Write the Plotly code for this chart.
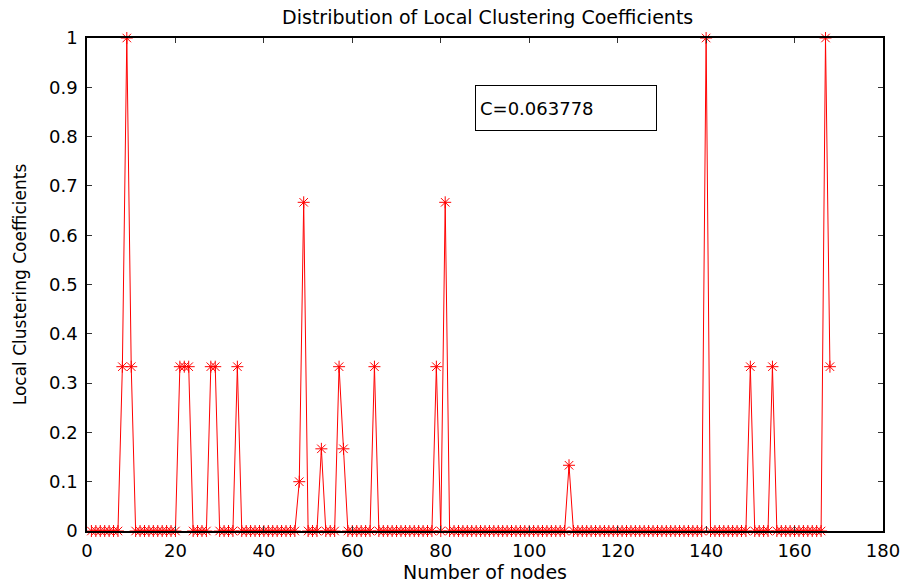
import plotly.graph_objects as go

# Node index (x) and local clustering coefficient (y) for each node
nodes = list(range(1, 169))
coefficients = [
    0, 0, 0, 0, 0, 0, 0, 0.3333, 1, 0.3333,              # 1-10
    0, 0, 0, 0, 0, 0, 0, 0, 0, 0,                         # 11-20
    0.3333, 0.3333, 0.3333, 0, 0, 0, 0, 0.3333, 0.3333, 0,  # 21-30
    0, 0, 0, 0.3333, 0, 0, 0, 0, 0, 0,                    # 31-40
    0, 0, 0, 0, 0, 0, 0, 0.1, 0.6667, 0,                  # 41-50
    0, 0, 0.1667, 0, 0, 0, 0.3333, 0.1667, 0, 0,          # 51-60
    0, 0, 0, 0, 0.3333, 0, 0, 0, 0, 0,                    # 61-70
    0, 0, 0, 0, 0, 0, 0, 0, 0.3333, 0,                    # 71-80
    0.6667, 0, 0, 0, 0, 0, 0, 0, 0, 0,                    # 81-90
    0, 0, 0, 0, 0, 0, 0, 0, 0, 0,                         # 91-100
    0, 0, 0, 0, 0, 0, 0, 0, 0.1333, 0,                    # 101-110
    0, 0, 0, 0, 0, 0, 0, 0, 0, 0,                         # 111-120
    0, 0, 0, 0, 0, 0, 0, 0, 0, 0,                         # 121-130
    0, 0, 0, 0, 0, 0, 0, 0, 0, 1,                         # 131-140
    0, 0, 0, 0, 0, 0, 0, 0, 0, 0.3333,                    # 141-150
    0, 0, 0, 0, 0.3333, 0, 0, 0, 0, 0,                    # 151-160
    0, 0, 0, 0, 0, 0, 1, 0.3333,                          # 161-168
]
x_ticks = [0, 20, 40, 60, 80, 100, 120, 140, 160, 180]
y_ticks = [0, 0.1, 0.2, 0.3, 0.4, 0.5, 0.6, 0.7, 0.8, 0.9, 1]
y_tick_labels = ["0", "0.1", "0.2", "0.3", "0.4", "0.5", "0.6", "0.7", "0.8", "0.9", "1"]
annotation_text = "C=0.063778"

FONT = "DejaVu Sans"

fig = go.Figure()
fig.add_trace(go.Scatter(
    x=nodes, y=coefficients,
    mode="lines+markers",
    line=dict(color="#ff0000", width=1),
    marker=dict(symbol="asterisk-open", size=10,
                line=dict(color="#ff0000", width=1), color="#ff0000"),
    cliponaxis=False,
    showlegend=False,
))

axis_common = dict(
    showline=True, linecolor="black", linewidth=1.5, mirror="ticks",
    ticks="inside", ticklen=5, tickwidth=1, tickcolor="#333333",
    showgrid=False, zeroline=False, automargin=False,
    tickfont=dict(family=FONT, size=18, color="black"),
)

fig.update_layout(
    width=909, height=585,
    margin=dict(l=87, r=26, t=38, b=54),
    paper_bgcolor="white", plot_bgcolor="white",
    title=dict(text="Distribution of Local Clustering Coefficients",
               font=dict(family=FONT, size=19, color="black"),
               x=0.5365, xanchor="center", y=0.970, yanchor="middle"),
    xaxis=dict(range=[0, 180], tickvals=x_ticks,
               title=dict(text="Number of nodes", standoff=3,
                          font=dict(family=FONT, size=19, color="black")),
               ticklabelstandoff=3,
               **axis_common),
    yaxis=dict(range=[0, 1], tickvals=y_ticks, ticktext=y_tick_labels,
               title=dict(text="Local Clustering Coefficients", standoff=18,
                          font=dict(family=FONT, size=17, color="black")),
               ticklabelstandoff=4,
               **axis_common),
    annotations=[dict(
        text=annotation_text, xref="paper", yref="paper",
        x=0.6016, y=0.859, xanchor="center", yanchor="middle",
        showarrow=False, align="left",
        width=172, height=36, borderpad=4,
        bordercolor="black", borderwidth=1, bgcolor="white",
        font=dict(family=FONT, size=18, color="black"),
    )],
)

fig.write_html("out.html")
